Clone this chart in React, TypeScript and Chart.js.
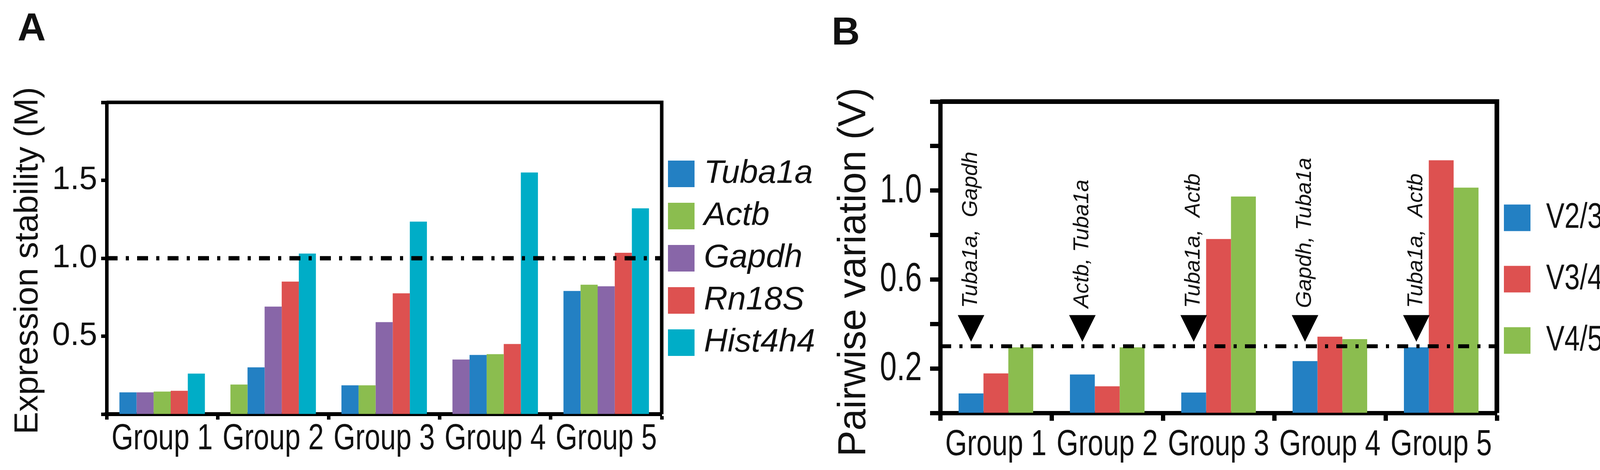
import { useEffect, useRef } from "react"
import { Chart, registerables } from "chart.js"

Chart.register(...registerables)

// ---- shared categories ----
const groups = ["Group 1", "Group 2", "Group 3", "Group 4", "Group 5"]

// ---- panel A: expression stability (M) ----
const genes = ["Tuba1a", "Actb", "Gapdh", "Rn18S", "Hist4h4"]
const tuba1aM = [0.14, 0.3, 0.185, 0.38, 0.79]
const actbM = [0.145, 0.19, 0.185, 0.385, 0.83]
const gapdhM = [0.14, 0.69, 0.59, 0.35, 0.82]
const rn18sM = [0.15, 0.85, 0.775, 0.45, 1.035]
const hist4h4M = [0.26, 1.03, 1.235, 1.55, 1.32]
// bar order inside each group, left to right (index into genes)
const group1Order = [0, 2, 1, 3, 4]
const group2Order = [1, 0, 2, 3, 4]
const group3Order = [0, 1, 2, 3, 4]
const group4Order = [2, 0, 1, 3, 4]
const group5Order = [0, 1, 2, 3, 4]
const stabilityCutoff = 1.0
const stabilityTickLabels = ["0.5", "1.0", "1.5"]

// ---- panel B: pairwise variation (V) ----
const pairs = ["V2/3", "V3/4", "V4/5"]
const v23 = [0.088, 0.173, 0.092, 0.233, 0.295]
const v34 = [0.178, 0.12, 0.782, 0.343, 1.136]
const v45 = [0.295, 0.295, 0.973, 0.332, 1.013]
const variationCutoff = 0.3
const variationTickLabels = ["0.2", "0.6", "1.0"]
const bestPairs = ["Tuba1a,  Gapdh", "Actb, Tuba1a", "Tuba1a,  Actb", "Gapdh, Tuba1a", "Tuba1a,  Actb"]

const geneColors = ["#2380c3", "#8bbd4f", "#8866a8", "#dd5150", "#00adc7"]
const pairColors = ["#2380c3", "#dd5150", "#8bbd4f"]

const SANS = "'Liberation Sans', Arial, sans-serif"
const INK = "#111"

// no narrow face is installed, so condensed labels are squeezed horizontally
function squeezed(ctx: any, text: string, x: number, y: number, font: string, squeeze: number, align: string, baseline = "alphabetic") {
  ctx.save()
  ctx.translate(x, y)
  ctx.scale(squeeze, 1)
  ctx.font = font
  ctx.fillStyle = INK
  ctx.textAlign = align
  ctx.textBaseline = baseline
  ctx.fillText(text, 0, 0)
  ctx.restore()
}

// frame, cut-off line, arrows, axis texts and legend
const decorPlugin = {
  id: "decor",
  afterDatasetsDraw(chart: any, _args: any, opts: any) {
    const { ctx, chartArea: a } = chart
    const y = chart.scales.y
    ctx.save()
    const yy = y.getPixelForValue(opts.cutoff)
    ctx.strokeStyle = "#000"
    ctx.lineWidth = opts.cutoffWidth
    ctx.setLineDash([28, 21, 8, 21])
    ctx.beginPath()
    ctx.moveTo(a.left, yy)
    ctx.lineTo(a.right, yy)
    ctx.stroke()
    ctx.setLineDash([])

    if (opts.markers) {
      const meta = chart.getDatasetMeta(0)
      const m = opts.markers
      m.labels.forEach((label: string, i: number) => {
        const x = meta.data[i].x
        const tip = y.getPixelForValue(m.tip)
        const top = y.getPixelForValue(m.top)
        ctx.fillStyle = "#000"
        ctx.beginPath()
        ctx.moveTo(x - m.halfWidth, top)
        ctx.lineTo(x + m.halfWidth, top)
        ctx.lineTo(x, tip)
        ctx.closePath()
        ctx.fill()
        ctx.save()
        ctx.translate(x, top - m.gap)
        ctx.rotate(-Math.PI / 2)
        ctx.font = m.font
        ctx.fillStyle = INK
        ctx.textAlign = "left"
        ctx.textBaseline = "middle"
        ctx.fillText(label, 0, 0)
        ctx.restore()
      })
    }
    ctx.restore()
  },
  afterDraw(chart: any, _args: any, opts: any) {
    const { ctx, chartArea: a } = chart
    const xs = chart.scales.x
    const ys = chart.scales.y
    ctx.save()
    // top and right sides of the box
    const w = opts.frameWidth
    ctx.strokeStyle = "#000"
    ctx.lineWidth = w
    ctx.beginPath()
    ctx.moveTo(a.left, a.top)
    ctx.lineTo(a.right, a.top)
    ctx.moveTo(a.right, a.top - w / 2)
    ctx.lineTo(a.right, a.bottom)
    ctx.stroke()

    // category labels under the axis
    const xl = opts.xLabels
    xs.ticks.forEach((_t: any, i: number) => {
      squeezed(ctx, String(chart.data.labels[i]), xs.getPixelForTick(i), a.bottom + xl.dy, xl.font, xl.squeeze, "center")
    })

    // condensed value labels (panel B)
    if (opts.yLabels) {
      const yl = opts.yLabels
      ys.ticks.forEach((t: any) => {
        const s = Number(t.value).toFixed(1)
        if (!yl.labels.includes(s)) return
        squeezed(ctx, s, a.left + yl.dx, ys.getPixelForValue(t.value) + yl.dy, yl.font, yl.squeeze, "right")
      })
    }

    // y axis title
    const t = opts.yTitle
    ctx.save()
    ctx.translate(a.left + t.dx, (a.top + a.bottom) / 2 + t.dy)
    ctx.rotate(-Math.PI / 2)
    ctx.font = t.font
    ctx.fillStyle = INK
    ctx.textAlign = "center"
    ctx.textBaseline = "alphabetic"
    ctx.fillText(t.text, 0, 0)
    ctx.restore()

    // legend
    const lg = opts.legend
    const total = (lg.labels.length - 1) * lg.pitch + lg.box
    const top0 = (a.top + a.bottom) / 2 + lg.dy - total / 2
    lg.labels.forEach((label: string, i: number) => {
      const bx = a.right + lg.dx
      const by = top0 + i * lg.pitch
      ctx.fillStyle = lg.colors[i]
      ctx.fillRect(bx, by, lg.box, lg.box)
      squeezed(ctx, label, bx + lg.box + lg.gap, by + lg.box / 2, lg.font, lg.squeeze, "left", "middle")
    })
    ctx.restore()
  },
}

function tickFilter(labels: string[]) {
  return (value: any) => {
    const s = Number(value).toFixed(1)
    return labels.includes(s) ? s : ""
  }
}

interface PanelProps {
  left: number
  width: number
  build: () => any
}

function Panel({ left, width, build }: PanelProps) {
  const canvasRef = useRef<HTMLCanvasElement>(null)

  useEffect(() => {
    if (!canvasRef.current) return
    const chart = new Chart(canvasRef.current, build())
    return () => chart.destroy()
  }, [build])

  return (
    <div style={{ position: "absolute", left, top: 0, width, height: 1203 }}>
      <canvas ref={canvasRef} width={width} height={1203} style={{ display: "block" }} />
    </div>
  )
}

const A_WIDTH = 2120
const B_LEFT = 2070
const B_WIDTH = 4127 - B_LEFT

function buildStability() {
  const orders = [group1Order, group2Order, group3Order, group4Order, group5Order]
  const values = [tuba1aM, actbM, gapdhM, rn18sM, hist4h4M]
  // one dataset per rank position, coloured by gene
  const datasets = genes.map((_, k) => ({
    label: `rank ${k + 1}`,
    data: orders.map((order, g) => values[order[k]][g]),
    backgroundColor: orders.map((order) => geneColors[order[k]]),
    borderWidth: 0,
    categoryPercentage: 0.77,
    barPercentage: 1,
  }))

  return {
    type: "bar",
    data: { labels: groups, datasets },
    plugins: [decorPlugin],
    options: {
      responsive: false,
      devicePixelRatio: 1,
      animation: false,
      events: [],
      layout: { padding: { left: 0, top: 262, right: A_WIDTH - 1694, bottom: 0 } },
      plugins: {
        legend: { display: false },
        tooltip: { enabled: false },
        decor: {
          cutoff: stabilityCutoff,
          cutoffWidth: 11,
          frameWidth: 9,
          xLabels: { font: `92px ${SANS}`, squeeze: 0.78, dy: 90 },
          yTitle: { text: "Expression stability (M)", font: `86px ${SANS}`, dx: -177, dy: 6 },
          legend: {
            labels: genes,
            colors: geneColors,
            font: `italic 84px ${SANS}`,
            squeeze: 1,
            box: 68,
            pitch: 108,
            dx: 16,
            dy: 0,
            gap: 24,
          },
        },
      },
      scales: {
        x: {
          z: 1,
          grid: { drawOnChartArea: false, tickLength: 14, tickWidth: 9, tickColor: "#000" },
          border: { color: "#000", width: 10 },
          ticks: { display: false, autoSkip: false },
          afterFit: (s: any) => {
            s.height = 1203 - 1060
          },
        },
        y: {
          z: 1,
          min: 0,
          max: 2,
          grid: { drawOnChartArea: false, tickLength: 14, tickWidth: 9, tickColor: "#000" },
          border: { color: "#000", width: 9 },
          ticks: { stepSize: 0.5, autoSkip: false, color: INK, font: { family: SANS, size: 83 }, padding: 10, callback: tickFilter(stabilityTickLabels) },
          afterFit: (s: any) => {
            s.width = 273
          },
        },
      },
    },
  }
}

function buildVariation() {
  const series = [v23, v34, v45]
  const datasets = pairs.map((label, k) => ({
    label,
    data: series[k],
    backgroundColor: pairColors[k],
    borderWidth: 0,
    categoryPercentage: 0.67,
    barPercentage: 1,
  }))

  return {
    type: "bar",
    data: { labels: groups, datasets },
    plugins: [decorPlugin],
    options: {
      responsive: false,
      devicePixelRatio: 1,
      animation: false,
      events: [],
      layout: { padding: { left: 0, top: 260, right: 4127 - 3832, bottom: 0 } },
      plugins: {
        legend: { display: false },
        tooltip: { enabled: false },
        decor: {
          cutoff: variationCutoff,
          cutoffWidth: 10,
          frameWidth: 12,
          xLabels: { font: `92px ${SANS}`, squeeze: 0.78, dy: 108 },
          yLabels: { labels: variationTickLabels, font: `103px ${SANS}`, squeeze: 0.75, dx: -47, dy: 30 },
          yTitle: { text: "Pairwise variation (V)", font: `100px ${SANS}`, dx: -192, dy: 38 },
          legend: {
            labels: pairs,
            colors: pairColors,
            font: `91px ${SANS}`,
            squeeze: 0.775,
            box: 68,
            pitch: 157,
            dx: 18,
            dy: 56,
            gap: 40,
          },
          markers: {
            labels: bestPairs,
            tip: 0.32,
            top: 0.44,
            halfWidth: 34,
            gap: 18,
            font: `italic 56px ${SANS}`,
          },
        },
      },
      scales: {
        x: {
          z: 1,
          grid: { drawOnChartArea: false, tickLength: 20, tickWidth: 11, tickColor: "#000" },
          border: { color: "#000", width: 11 },
          ticks: { display: false, autoSkip: false },
          afterFit: (s: any) => {
            s.height = 1203 - 1057
          },
        },
        y: {
          z: 1,
          min: 0,
          max: 1.4,
          grid: { drawOnChartArea: false, tickLength: 26, tickWidth: 11, tickColor: "#000" },
          border: { color: "#000", width: 11 },
          ticks: { display: false, autoSkip: false, stepSize: 0.2 },
          afterFit: (s: any) => {
            s.width = 2407 - B_LEFT
          },
        },
      },
    },
  }
}

const panelLetter = {
  position: "absolute" as const,
  margin: 0,
  fontFamily: SANS,
  fontWeight: "bold" as const,
  fontSize: 100,
  lineHeight: "100px",
  color: INK,
}

export default function App() {
  return (
    <div style={{ position: "absolute", left: 0, top: 0, width: 4127, height: 1203, background: "#fff", overflow: "hidden" }}>
      <Panel left={0} width={A_WIDTH} build={buildStability} />
      <Panel left={B_LEFT} width={B_WIDTH} build={buildVariation} />
      <div style={{ ...panelLetter, left: 45, top: 19 }}>A</div>
      <div style={{ ...panelLetter, left: 2129, top: 29 }}>B</div>
    </div>
  )
}
